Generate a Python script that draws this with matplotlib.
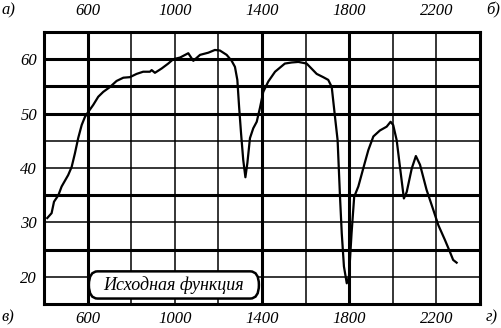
import matplotlib
matplotlib.use('Agg')
import matplotlib.pyplot as plt
from matplotlib.patches import FancyBboxPatch
from matplotlib.transforms import ScaledTranslation

plt.rcParams['font.family'] = ['Liberation Serif', 'DejaVu Serif']
plt.rcParams['font.style'] = 'italic'

# curve (wavenumber, value)
wn = [415, 435, 446, 466, 481, 511, 527, 542, 557, 573, 588, 603, 626, 649, 672,
      703, 733, 764, 794, 825, 855, 886, 894, 909, 940, 970, 993, 1024, 1062,
      1085, 1116, 1154, 1184, 1207, 1238, 1261, 1276, 1287, 1295, 1304, 1314,
      1324, 1333, 1345, 1360, 1376, 1391, 1406, 1429, 1460, 1505, 1536, 1567,
      1605, 1651, 1681, 1704, 1720, 1735, 1747, 1758, 1766, 1776, 1789, 1799,
      1811, 1823, 1842, 1872, 1888, 1911, 1941, 1972, 1990, 2002, 2018, 2033,
      2051, 2064, 2087, 2106, 2125, 2155, 2186, 2209, 2239, 2262, 2277, 2293]
val = [30.8, 31.7, 33.8, 35.0, 36.6, 38.7, 40.2, 42.7, 45.5, 47.9, 49.4, 50.3,
       51.6, 53.1, 54.0, 54.9, 56.0, 56.6, 56.7, 57.3, 57.7, 57.7, 58.0, 57.5,
       58.3, 59.2, 60.0, 60.3, 61.1, 59.7, 60.8, 61.2, 61.7, 61.6, 60.8, 59.7,
       58.6, 56.2, 51.3, 46.4, 41.5, 38.3, 40.9, 45.5, 47.3, 48.5, 51.1, 54.0,
       55.9, 57.7, 59.2, 59.4, 59.5, 59.2, 57.3, 56.7, 56.2, 54.9, 49.4, 45.1,
       34.7, 28.0, 21.9, 18.8, 20.0, 28.0, 34.7, 36.6, 41.0, 43.3, 45.8, 46.9,
       47.6, 48.5, 47.9, 45.1, 40.2, 34.4, 35.6, 39.9, 42.2, 40.6, 36.0, 32.3,
       29.5, 26.8, 24.6, 23.1, 22.6]

x_grid = [600, 800, 1000, 1200, 1400, 1600, 1800, 2000, 2200]
x_thick = [600, 1400, 1800]
y_grid = [20, 25, 30, 35, 40, 45, 50, 55, 60]
y_thick = [25, 35, 50, 55, 60]
x_labels = [600, 1000, 1400, 1800, 2200]
y_labels = [20, 30, 40, 50, 60]

fig = plt.figure(figsize=(5.02, 3.28), dpi=100)
ax = fig.add_axes([0.0876, 0.0732, 0.8685, 0.8292])
ax.set_xlim(400, 2400)
ax.set_ylim(15, 65)

for g in x_grid:
    ax.axvline(g, color='black', lw=2.2 if g in x_thick else 1.1, zorder=1)
for g in y_grid:
    ax.axhline(g, color='black', lw=2.2 if g in y_thick else 1.1, zorder=1)

ax.plot(wn, val, color='black', lw=1.6, zorder=3)

for s in ax.spines.values():
    s.set_linewidth(2.2)

ax.set_xticks(x_labels)
ax.set_yticks(y_labels)
ax.tick_params(length=0, labelsize=12, labeltop=True, pad=5)

# top labels sit a bit higher than the bottom ones
shift = ScaledTranslation(0, 6 / 100, fig.dpi_scale_trans)
for t in ax.xaxis.get_major_ticks():
    t.label2.set_transform(t.label2.get_transform() + shift)

# caption box
box = FancyBboxPatch((0.103, 0.02), 0.39, 0.1, transform=ax.transAxes,
                     boxstyle='round,pad=0,rounding_size=0.02', mutation_aspect=2.5,
                     fc='white', ec='black', lw=1.8, zorder=4)
ax.add_patch(box)
ax.text(0.2975, 0.068, 'Исходная функция', transform=ax.transAxes, ha='center',
        va='center', fontsize=13, zorder=5)

fig.text(0.002, 0.968, 'а)', fontsize=12, va='center')
fig.text(0.968, 0.968, 'б)', fontsize=12, va='center')
fig.text(0.002, 0.032, 'в)', fontsize=12, va='center')
fig.text(0.968, 0.032, 'г)', fontsize=12, va='center')

fig.savefig('out.png', dpi=100)
